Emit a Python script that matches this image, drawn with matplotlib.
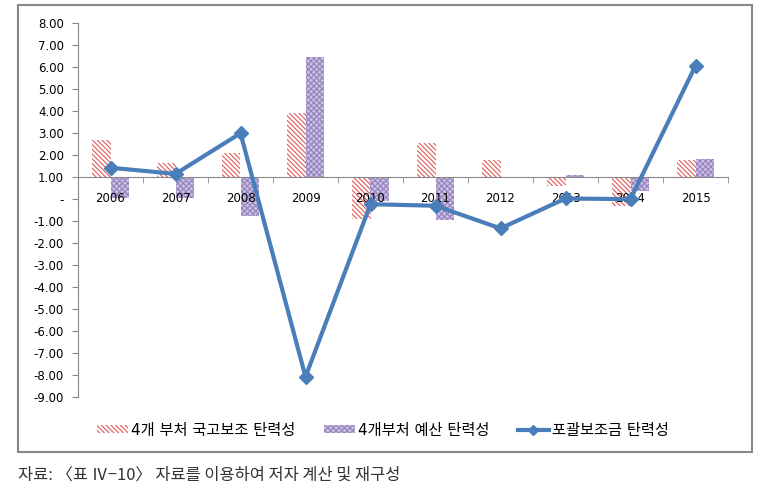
import matplotlib
matplotlib.use("Agg")
import matplotlib.pyplot as plt
from matplotlib.patches import Rectangle, Patch
from matplotlib.lines import Line2D
from matplotlib.ticker import FuncFormatter, FixedLocator
import numpy as np

plt.rcParams["font.family"] = ["DejaVu Sans", "Noto Sans CJK KR"]
plt.rcParams["hatch.linewidth"] = 0.8

years = ["2006", "2007", "2008", "2009", "2010", "2011", "2012", "2013", "2014", "2015"]
subsidy_elasticity = [2.69, 1.63, 2.11, 3.91, -0.92, 2.57, 1.78, 0.61, -0.30, 1.78]
budget_elasticity = [0.04, 0.04, -0.75, 6.45, -0.08, -0.95, 1.00, 1.10, 0.37, 1.84]
block_grant_elasticity = [1.43, 1.15, 3.00, -8.08, -0.23, -0.30, -1.33, 0.03, 0.00, 6.07]

series_names = ["4개 부처 국고보조 탄력성", "4개부처 예산 탄력성", "포괄보조금 탄력성"]
source_note = "자료: 〈표 Ⅳ−10〉 자료를 이용하여 저자 계산 및 재구성"

BASE = 1.0  # horizontal axis crosses at 1.00
RED = "#e05a5a"
PURPLE_FACE = "#cbc0e2"
PURPLE_HATCH = "#9482bf"
BLUE = "#4a7ebb"
RED_HATCH = "\\" * 7
PURPLE_PAT = "x" * 6

fig = plt.figure(figsize=(7.62, 4.99), dpi=100)
W, H = 762, 499
ax = fig.add_axes([78 / W, 1 - 397 / H, 650 / W, 373.7 / H])

x = np.arange(len(years))
w = 0.29
ax.bar(x - w / 2, np.array(subsidy_elasticity) - BASE, w, bottom=BASE,
       facecolor="white", edgecolor=RED, hatch=RED_HATCH, linewidth=0)
ax.bar(x + w / 2, np.array(budget_elasticity) - BASE, w, bottom=BASE,
       facecolor=PURPLE_FACE, edgecolor=PURPLE_HATCH, hatch=PURPLE_PAT, linewidth=0)
ax.plot(x, block_grant_elasticity, color=BLUE, lw=3, marker="D", ms=7, zorder=5)

ax.set_xlim(-0.5, len(years) - 0.5)
ax.set_ylim(-9, 8)
ax.set_yticks(np.arange(-9, 9, 1))
ax.yaxis.set_major_formatter(FuncFormatter(lambda v, p: "-" if abs(v) < 1e-9 else f"{v:.2f}"))
ax.tick_params(axis="y", labelsize=8.5, length=4, color="#888888", pad=6)

for s in ["top", "right"]:
    ax.spines[s].set_visible(False)
ax.spines["left"].set_color("#888888")
ax.spines["bottom"].set_color("#888888")
ax.spines["bottom"].set_position(("data", BASE))

ax.set_xticks(x)
ax.set_xticklabels(years)
ax.tick_params(axis="x", which="major", length=0, labelsize=8.5, pad=11)
ax.xaxis.set_minor_locator(FixedLocator(np.arange(-0.5, len(years), 1)))
ax.tick_params(axis="x", which="minor", length=4, color="#888888")

handles = [
    Patch(facecolor="white", edgecolor=RED, hatch=RED_HATCH, linewidth=0),
    Patch(facecolor=PURPLE_FACE, edgecolor=PURPLE_HATCH, hatch=PURPLE_PAT, linewidth=0),
    Line2D([], [], color=BLUE, lw=3, marker="D", ms=5),
]
fig.legend(handles, series_names, loc="center", bbox_to_anchor=(383 / W, 1 - 430 / H),
           ncol=3, frameon=False, fontsize=11, columnspacing=1.9,
           handlelength=2.0, handleheight=0.5, handletextpad=0.2)

fig.patches.append(Rectangle((18 / W, 1 - 452 / H), 734 / W, 447 / H,
                             transform=fig.transFigure, fill=False,
                             edgecolor="#888888", lw=1.5))

fig.text(18 / W, 1 - 475 / H, source_note, fontsize=11.8, va="center", ha="left",
         family=["Noto Sans CJK KR", "DejaVu Sans"], color="#333333")

fig.savefig("out.png", dpi=100)
